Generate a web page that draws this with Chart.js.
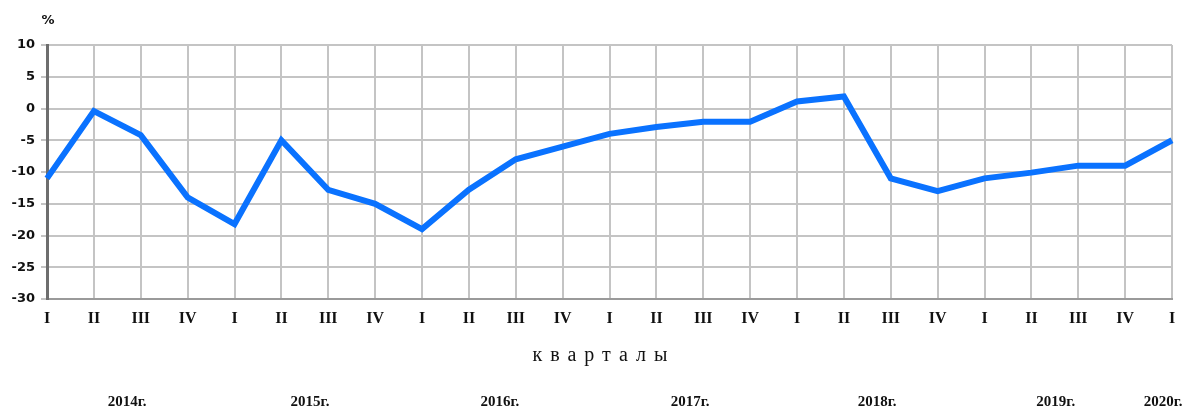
<!DOCTYPE html>
<html>
<head>
<meta charset="utf-8">
<script src="https://cdn.jsdelivr.net/npm/chart.js@4"></script>
<style>
  body { margin: 0; background: #fff; }
</style>
</head>
<body>
<canvas id="myChart" width="1190" height="411"></canvas>
<script>
const quarters = ["I", "II", "III", "IV", "I", "II", "III", "IV", "I", "II", "III", "IV",
  "I", "II", "III", "IV", "I", "II", "III", "IV", "I", "II", "III", "IV", "I"];
const values = [-11, -0.4, -4.2, -14, -18.2, -5, -12.8, -15, -19, -12.8, -8, -6,
  -4, -2.9, -2.1, -2.1, 1.1, 1.9, -11, -13, -11, -10.1, -9, -9, -5];
const years = ["2014г.", "2015г.", "2016г.", "2017г.", "2018г.", "2019г.", "2020г."];
const yearSpots = [1.71, 5.61, 9.66, 13.72, 17.71, 21.52, 23.81];
const unitLabel = "%";
const axisTitle = "кварталы";

const textPlugin = {
  id: "extraText",
  afterDraw(chart) {
    const c = chart.ctx;
    const xs = chart.scales.x;
    c.save();
    c.fillStyle = "#111";
    c.textAlign = "center";
    c.textBaseline = "middle";
    c.font = "bold 13px 'DejaVu Sans'";
    c.fillText(unitLabel, 48, 21);

    c.font = "20px 'Liberation Serif'";
    c.letterSpacing = "8px";
    c.fillText(axisTitle, 604, 356);
    c.letterSpacing = "0px";

    c.font = "bold 15px 'Liberation Serif'";
    years.forEach((y, i) => {
      c.fillText(y, xs.getPixelForValue(yearSpots[i]), 402);
    });
    c.restore();
  },
};

const ctx = document.getElementById("myChart");
const myChart = new Chart(ctx, {
  type: "line",
  data: {
    labels: quarters,
    datasets: [
      {
        data: values,
        borderColor: "#0a72ff",
        borderWidth: 6,
        pointRadius: 0,
        tension: 0,
        fill: false,
      },
    ],
  },
  options: {
    responsive: false,
    animation: false,
    layout: { padding: { top: 45, right: 18, left: 0, bottom: 0 } },
    plugins: { legend: { display: false }, tooltip: { enabled: false } },
    scales: {
      x: {
        offset: false,
        grid: { color: "#c4c4c4", lineWidth: 2, drawTicks: false },
        border: { color: "#9a9a9a", width: 2 },
        ticks: {
          autoSkip: false,
          maxRotation: 0,
          padding: 10,
          color: "#111",
          font: { family: "'Liberation Serif'", size: 16, weight: "bold" },
        },
        afterFit: (s) => { s.height = 112; },
      },
      y: {
        min: -30,
        max: 10,
        grid: { color: "#c4c4c4", lineWidth: 2, tickLength: 6 },
        border: { color: "#6e6e6e", width: 3 },
        ticks: {
          stepSize: 5,
          padding: 6,
          color: "#111",
          font: { family: "'DejaVu Sans'", size: 13, weight: "bold" },
        },
        afterFit: (s) => { s.width = 47; },
      },
    },
  },
  plugins: [textPlugin],
});
</script>
</body>
</html>
